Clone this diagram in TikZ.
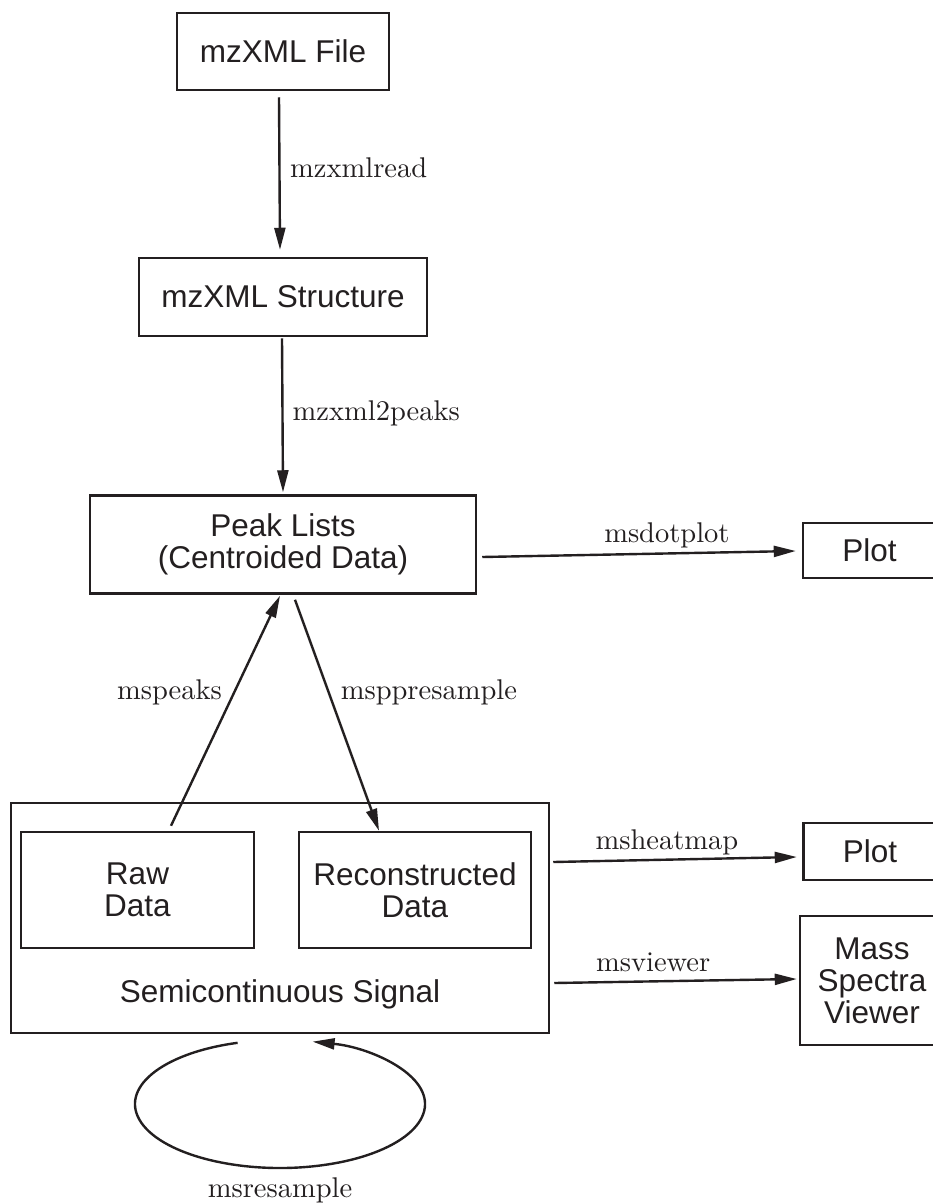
\documentclass[tikz,border=0pt]{standalone}
\usepackage{fontspec}
\newfontfamily\boxfont{Liberation Sans}
\newfontfamily\labfont{lmroman10-regular.otf}
\usetikzlibrary{arrows.meta,calc}
\definecolor{ink}{RGB}{35,31,32}
\begin{document}
\begin{tikzpicture}[x=1pt,y=-1pt,
  box/.style={draw=ink,text=ink,line width=2.5pt,rectangle,inner sep=0pt,align=center,
    font=\boxfont\fontsize{31.5}{32}\selectfont},
  plain/.style={text=ink,inner sep=0pt,align=center,font=\boxfont\fontsize{31.5}{32}\selectfont},
  conn/.style={draw=ink,line width=2.4pt,-{Triangle[length=22pt,width=11pt]}},
  lab/.style={text=ink,inner sep=0pt,font=\labfont\fontsize{28.5}{30}\selectfont}]
\fill[white] (0,0) rectangle (933,1203);
\useasboundingbox (0,0) rectangle (933,1203);

\node[box,minimum width=212pt,minimum height=77pt] (file) at (283,51.5) {mzXML File};
\node[box,minimum width=288pt,minimum height=78pt] (struct) at (283,297) {mzXML Structure};
\node[box,minimum width=386pt,minimum height=98pt] (peak) at (283,544.5) {Peak Lists\\(Centroided Data)};
\node[box,minimum width=133pt,minimum height=55pt] (plotA) at (869.5,550.5) {Plot};

\node[box,minimum width=538pt,minimum height=230pt] (semi) at (280,918) {};
\node[box,minimum width=233pt,minimum height=116pt] (raw) at (137.5,890) {Raw\\Data};
\node[box,minimum width=232pt,minimum height=116pt] (recon) at (415,890) {Reconstructed\\Data};
\node[plain] (semitext) at (280,994) {Semicontinuous Signal};

\node[box,minimum width=133pt,minimum height=57pt] (plotB) at (870,851.5) {Plot};
\node[box,minimum width=144pt,minimum height=129pt] (mass) at (872,980.5) {Mass\\Spectra\\Viewer};

\coordinate (loopc) at (280,1104);

% connectors
\draw[conn] ($(file.south)+(-4,6)$) -- node[lab,pos=0.465,anchor=west,xshift=9.5pt] {mzxmlread} ($(struct.north)+(-3,-7)$);
\draw[conn] ($(struct.south)+(-1,1)$) -- node[lab,pos=0.487,anchor=west,xshift=9pt] {mzxml2peaks} ($(peak.north)+(0,-2)$);
\draw[conn] ($(peak.east)+(5,12.5)$) -- node[lab,pos=0.589,yshift=18.5pt] {msdotplot} ($(plotA.west)+(-6,0.5)$);
\draw[conn] ($(raw.north)+(33.5,-5)$) -- node[lab,pos=0.579,anchor=east,xshift=-11pt] {mspeaks} ($(peak.south)+(-3,1)$);
\draw[conn] ($(peak.south)+(12,5)$) -- node[lab,pos=0.40,anchor=west,xshift=11pt] {msppresample} ($(recon.north)+(-36,0)$);
\draw[conn] ($(semi.east)+(3,-56)$) -- node[lab,pos=0.467,yshift=17.7pt] {msheatmap} ($(plotB.west)+(-5.5,5.5)$);
\draw[conn] ($(semi.east)+(4,65)$) -- node[lab,pos=0.408,yshift=19.4pt] {msviewer} ($(mass.west)+(-2,-1.5)$);
\draw[conn] ($(loopc)+(253:145 and 64)$) arc[start angle=253,end angle=-77,x radius=145,y radius=64];
\node[lab] (resample) at (280,1190) {msresample};
\end{tikzpicture}
\end{document}
